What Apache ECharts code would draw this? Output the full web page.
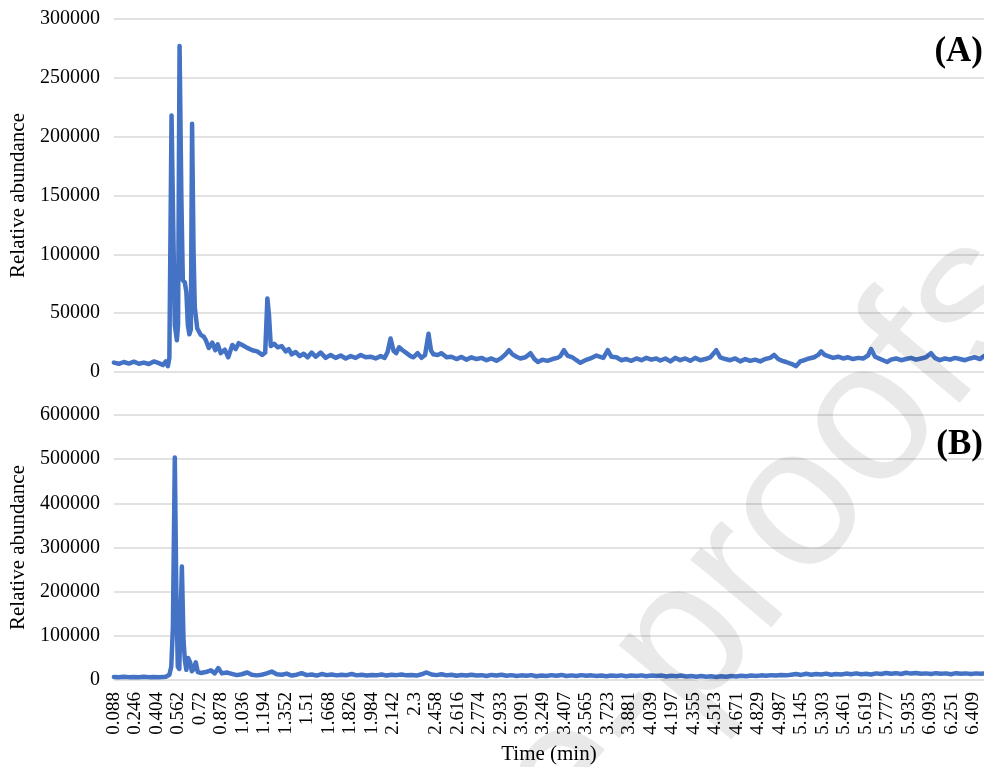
<!DOCTYPE html>
<html>
<head>
<meta charset="utf-8">
<script src="https://cdn.jsdelivr.net/npm/echarts@6/dist/echarts.min.js"></script>
<style>
  html, body { margin: 0; padding: 0; background: #ffffff; }
  #chart { width: 984px; height: 767px; }
</style>
</head>
<body>
<div id="chart"></div>
<script>
// Retention-time tick labels (min)
const timeTicks = ['0.088','0.246','0.404','0.562','0.72','0.878','1.036','1.194','1.352','1.51',
  '1.668','1.826','1.984','2.142','2.3','2.458','2.616','2.774','2.933','3.091','3.249','3.407',
  '3.565','3.723','3.881','4.039','4.197','4.355','4.513','4.671','4.829','4.987','5.145','5.303',
  '5.461','5.619','5.777','5.935','6.093','6.251','6.409'];

// Panel (A): [time (min), relative abundance]
const chromatogramA = [
  [0.088,8000],[0.125,7000],[0.161,8500],[0.198,7200],[0.235,8800],[0.272,7000],[0.308,8000],
  [0.345,6800],[0.382,9000],[0.419,7500],[0.448,6000],[0.470,9000],[0.485,5000],[0.496,12000],
  [0.512,218000],[0.525,120000],[0.536,40000],[0.551,27000],[0.560,40000],[0.571,277000],
  [0.584,150000],[0.595,78000],[0.610,76000],[0.621,68000],[0.632,40000],[0.643,32000],
  [0.654,36000],[0.663,211000],[0.674,101000],[0.683,55000],[0.701,37000],[0.727,31500],
  [0.749,30000],[0.764,27000],[0.786,20500],[0.812,25000],[0.834,18500],[0.852,23500],
  [0.874,16000],[0.904,19000],[0.929,12500],[0.959,23000],[0.984,19500],[1.006,24500],
  [1.032,23000],[1.069,20500],[1.106,18500],[1.142,17500],[1.179,14500],[1.201,16500],
  [1.217,62500],[1.229,48000],[1.242,22000],[1.267,24000],[1.293,21000],[1.322,22000],
  [1.352,17500],[1.374,19500],[1.396,15000],[1.425,17000],[1.455,13500],[1.484,15500],
  [1.513,12500],[1.543,16500],[1.572,13000],[1.609,16500],[1.646,12000],[1.682,14500],
  [1.719,12000],[1.756,14000],[1.793,11500],[1.829,13500],[1.866,12000],[1.903,14500],
  [1.940,12500],[1.976,13000],[2.013,11500],[2.050,13500],[2.079,12000],[2.101,17000],
  [2.123,28500],[2.145,18000],[2.164,16000],[2.186,21000],[2.211,18500],[2.241,16000],
  [2.270,13500],[2.292,12500],[2.322,16000],[2.351,12000],[2.377,14500],[2.402,32500],
  [2.421,18000],[2.439,15000],[2.469,14500],[2.498,16000],[2.535,12500],[2.571,13000],
  [2.608,11000],[2.645,12800],[2.682,10500],[2.718,12500],[2.755,11000],[2.792,12000],
  [2.829,10000],[2.865,11500],[2.902,9500],[2.939,12000],[2.968,15000],[2.994,18500],
  [3.020,15000],[3.049,13000],[3.078,11500],[3.115,12500],[3.152,16000],[3.181,11000],
  [3.207,8500],[3.240,10500],[3.277,9500],[3.314,11000],[3.350,12000],[3.372,13500],
  [3.398,18500],[3.424,14000],[3.460,12500],[3.490,10000],[3.519,7800],[3.556,10000],
  [3.593,11500],[3.637,14000],[3.688,12000],[3.721,18500],[3.747,13000],[3.784,12500],
  [3.821,10000],[3.857,11000],[3.894,9500],[3.931,11500],[3.968,10000],[4.004,12000],
  [4.041,10500],[4.078,11500],[4.107,9800],[4.144,11500],[4.181,9000],[4.217,12000],
  [4.254,10000],[4.291,11500],[4.327,9500],[4.364,12000],[4.401,10000],[4.438,11000],
  [4.475,12500],[4.519,18500],[4.548,12500],[4.585,11000],[4.621,10000],[4.658,11500],
  [4.695,9000],[4.732,11000],[4.768,9500],[4.805,10500],[4.842,9000],[4.879,11000],
  [4.915,12000],[4.945,14500],[4.974,11000],[5.004,9500],[5.033,8500],[5.070,7000],
  [5.106,5000],[5.136,9000],[5.165,10000],[5.202,11500],[5.239,12500],[5.268,14500],
  [5.290,17500],[5.316,14500],[5.341,13500],[5.378,12000],[5.415,13000],[5.452,11500],
  [5.488,12500],[5.525,11000],[5.562,12000],[5.599,11500],[5.635,14000],[5.657,19500],
  [5.687,13000],[5.716,11500],[5.746,10000],[5.775,8500],[5.804,10500],[5.841,11500],
  [5.878,10000],[5.915,11000],[5.951,12000],[5.988,10500],[6.025,11500],[6.061,12500],
  [6.098,16000],[6.127,12000],[6.164,10000],[6.201,11500],[6.238,10500],[6.275,12000],
  [6.311,11000],[6.348,10000],[6.385,11500],[6.421,12500],[6.458,11000],[6.488,13500]
];

// Panel (B): [time (min), relative abundance]
const chromatogramB = [
  [0.088,7000],[0.125,6000],[0.161,7500],[0.198,6500],[0.235,7000],[0.272,6000],[0.308,7500],
  [0.345,6500],[0.382,7000],[0.419,6000],[0.448,7000],[0.470,7500],[0.496,12000],[0.510,30000],
  [0.522,120000],[0.536,504000],[0.547,200000],[0.558,30000],[0.569,25000],[0.588,257000],
  [0.600,90000],[0.610,45000],[0.621,23000],[0.634,50000],[0.649,40000],[0.661,20000],
  [0.676,25000],[0.690,40000],[0.705,18000],[0.727,16000],[0.764,18000],[0.801,22000],
  [0.830,15000],[0.856,27000],[0.882,15000],[0.918,17000],[0.955,14000],[0.992,11000],
  [1.028,13000],[1.069,17000],[1.102,12000],[1.139,10500],[1.175,12000],[1.212,15000],
  [1.249,19000],[1.286,13000],[1.322,12000],[1.359,14500],[1.396,10000],[1.433,12000],
  [1.469,15500],[1.506,11000],[1.543,12500],[1.580,10000],[1.616,13500],[1.653,11000],
  [1.690,12500],[1.727,10500],[1.763,12000],[1.800,11000],[1.837,13500],[1.874,10500],
  [1.910,12000],[1.947,10000],[1.984,11500],[2.020,10500],[2.057,12500],[2.094,10000],
  [2.131,12000],[2.167,11000],[2.204,12500],[2.241,10500],[2.278,11500],[2.314,10000],
  [2.351,13000],[2.388,17000],[2.424,12500],[2.461,11000],[2.498,13000],[2.535,10500],
  [2.571,12000],[2.608,9500],[2.645,11500],[2.682,10000],[2.718,12000],[2.755,10000],
  [2.792,11000],[2.829,9000],[2.865,11500],[2.902,10000],[2.939,12000],[2.976,9500],
  [3.012,11000],[3.049,9000],[3.086,10500],[3.123,9500],[3.159,11000],[3.196,8500],
  [3.233,10000],[3.269,9000],[3.306,11000],[3.343,9500],[3.380,11500],[3.416,9000],
  [3.453,10500],[3.490,9000],[3.527,11000],[3.563,9500],[3.600,10500],[3.637,9000],
  [3.674,10000],[3.710,8500],[3.747,10000],[3.784,9000],[3.821,10500],[3.857,8500],
  [3.894,10000],[3.931,9000],[3.968,10500],[4.004,8500],[4.041,10000],[4.078,9000],
  [4.114,10000],[4.151,8000],[4.188,9500],[4.225,8500],[4.261,10000],[4.298,8000],
  [4.335,9000],[4.372,7500],[4.408,9000],[4.445,7500],[4.482,8500],[4.519,7000],
  [4.555,8500],[4.592,7500],[4.629,9000],[4.665,8000],[4.702,9500],[4.739,8500],
  [4.776,10000],[4.812,9000],[4.849,10500],[4.886,9500],[4.923,11000],[4.959,10000],
  [4.996,11500],[5.033,10500],[5.070,12000],[5.106,13500],[5.143,11500],[5.180,14000],
  [5.217,12000],[5.253,13500],[5.290,12500],[5.327,14500],[5.364,12000],[5.400,13500],
  [5.437,12500],[5.474,14500],[5.511,13000],[5.547,15000],[5.584,13000],[5.621,14000],
  [5.657,12500],[5.694,15000],[5.731,13500],[5.768,16000],[5.804,14000],[5.841,15500],
  [5.878,13500],[5.915,16500],[5.951,14500],[5.988,16000],[6.025,14000],[6.061,15000],
  [6.098,13500],[6.135,15500],[6.172,14000],[6.209,15000],[6.245,13000],[6.282,15500],
  [6.319,14000],[6.355,15000],[6.392,13500],[6.429,15000],[6.466,14000],[6.488,14500]
];

const serif = 'Liberation Serif, Times New Roman, serif';
const lineBlue = '#4472C4';
const gridGray = '#d9d9d9';
const tStart = 0.088, tStep = 0.158, tEnd = 6.488;

// Show a label only on the regular retention-time ticks
function tickLabel(v) {
  const k = Math.round((v - tStart) / tStep);
  if (k < 0 || k >= timeTicks.length) return '';
  if (Math.abs(v - (tStart + k * tStep)) > 0.01) return '';
  return timeTicks[k];
}

const yAxisBase = {
  type: 'value',
  min: 0,
  axisLine: { show: false },
  axisTick: { show: false },
  axisLabel: { fontFamily: serif, fontSize: 20, color: '#000', margin: 14, formatter: v => String(v) },
  splitLine: { show: true, lineStyle: { color: gridGray, width: 1.5 } },
  name: 'Relative abundance',
  nameLocation: 'middle',
  nameGap: 81,
  nameTextStyle: { fontFamily: serif, fontSize: 21, color: '#000' }
};

const lineStyle = { color: lineBlue, width: 4.5, join: 'round', cap: 'round' };

const chart = echarts.init(document.getElementById('chart'), null, { renderer: 'canvas' });
chart.setOption({
  animation: false,
  backgroundColor: '#ffffff',
  grid: [
    { left: 111, right: 0, top: 19, height: 353 },
    { left: 111, right: 0, top: 415, height: 265 }
  ],
  xAxis: [
    {
      gridIndex: 0, type: 'value', min: tStart, max: tEnd, interval: tStep,
      axisLine: { show: false }, axisTick: { show: false },
      axisLabel: { show: false }, splitLine: { show: false }
    },
    {
      gridIndex: 1, type: 'value', min: tStart, max: tEnd, interval: tStep,
      axisLine: { show: false }, axisTick: { show: false }, splitLine: { show: false },
      axisLabel: {
        rotate: 90, fontFamily: serif, fontSize: 19, color: '#000', margin: 12,
        showMaxLabel: false, formatter: tickLabel
      },
      name: 'Time (min)', nameLocation: 'middle', nameGap: 64,
      nameTextStyle: { fontFamily: serif, fontSize: 21, color: '#000' }
    }
  ],
  yAxis: [
    Object.assign({}, yAxisBase, { gridIndex: 0, max: 300000, interval: 50000 }),
    Object.assign({}, yAxisBase, { gridIndex: 1, max: 600000, interval: 100000 })
  ],
  series: [
    {
      type: 'line', xAxisIndex: 0, yAxisIndex: 0, data: chromatogramA,
      showSymbol: false, symbol: 'none', lineStyle: lineStyle
    },
    {
      type: 'line', xAxisIndex: 1, yAxisIndex: 1, data: chromatogramB,
      showSymbol: false, symbol: 'none', lineStyle: lineStyle
    }
  ],
  graphic: [
    {
      type: 'text', right: 1, top: 34, z: 100,
      style: { text: '(A)', font: 'bold 35px ' + serif, fill: '#000' }
    },
    {
      type: 'text', right: 1, top: 427, z: 100,
      style: { text: '(B)', font: 'bold 35px ' + serif, fill: '#000' }
    },
    {
      type: 'text', x: 1006, y: 262, rotation: 50 * Math.PI / 180, z: 200, silent: true,
      style: {
        text: 'Journal Pre-proofs',
        font: '200px Liberation Sans, Arial, sans-serif',
        fill: 'rgba(0,0,0,0.085)', align: 'right', verticalAlign: 'middle'
      }
    }
  ]
});
</script>
</body>
</html>
